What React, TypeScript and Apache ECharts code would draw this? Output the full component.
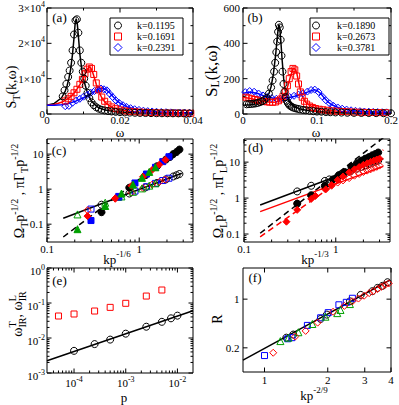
import React, { useEffect, useRef } from 'react';
import * as echarts from 'echarts';

const SERIF = '"Liberation Serif", "Times New Roman", Times, serif';
const fnt = (s: number) => `${s}px ${SERIF}`;
const BLACK = '#000000';
const RED = '#ff0000';
const BLUE = '#0000ff';
const GREEN = '#00a000';

// ---------------- panel (a): S_T(k, w)
const aLegendLabels = ['k=0.1195', 'k=0.1691', 'k=0.2391'];
const aBlackPts = [[0.0043,5000],[0.0048,6700],[0.0053,8500],[0.0058,10500],[0.0062,12300],[0.0066,14500],[0.0070,18000],[0.0074,22500],[0.0078,26500],[0.0082,26800],[0.0086,23000],[0.0090,18000],[0.0094,14500],[0.0098,12000],[0.0102,10000],[0.0106,8000],[0.0111,6000],[0.0116,4500],[0.0122,3300],[0.0128,2500],[0.0135,1900],[0.0142,1500],[0.0150,1200],[0.0158,1000],[0.0167,850],[0.0177,720],[0.0188,620],[0.0200,520],[0.0213,450],[0.0227,400],[0.0241,350],[0.0255,310],[0.0270,280],[0.0285,250],[0.0300,230],[0.0315,210],[0.0330,200],[0.0345,190],[0.0360,180],[0.0375,170],[0.0390,160]];
const aBlackFit = [[0,2500],[0.002,3000],[0.004,4600],[0.005,6500],[0.0055,8000],[0.006,10000],[0.0065,12800],[0.007,17000],[0.0074,21500],[0.0077,25500],[0.008,27000],[0.0083,25500],[0.0086,22000],[0.009,17000],[0.0095,12800],[0.01,10000],[0.0105,8000],[0.011,6300],[0.0115,5000],[0.012,4000],[0.013,2700],[0.014,1900],[0.015,1450],[0.016,1150],[0.018,800],[0.02,600],[0.025,370],[0.03,260],[0.035,200],[0.04,160]];
const aRedPts = [[0.0050,3700],[0.0058,4300],[0.0066,5000],[0.0074,6000],[0.0082,7000],[0.0090,8400],[0.0097,9800],[0.0104,11400],[0.0110,12700],[0.0116,13300],[0.0122,12900],[0.0128,11200],[0.0135,8800],[0.0142,6800],[0.0150,4800],[0.0158,3600],[0.0167,2600],[0.0177,2000],[0.0188,1500],[0.0200,1150],[0.0213,900],[0.0226,760],[0.0240,630],[0.0254,540],[0.0268,470],[0.0282,410],[0.0296,360],[0.0310,320],[0.0324,290],[0.0338,260],[0.0352,240],[0.0366,220],[0.0380,210],[0.0394,200]];
const aRedFit = [[0,2500],[0.002,2700],[0.004,3300],[0.006,4500],[0.007,5400],[0.008,6700],[0.009,8300],[0.010,10300],[0.0105,11500],[0.011,12600],[0.0115,13300],[0.012,13000],[0.0125,11800],[0.013,10200],[0.0135,8400],[0.014,6800],[0.015,4600],[0.016,3200],[0.017,2400],[0.018,1800],[0.02,1200],[0.022,850],[0.025,600],[0.03,380],[0.035,270],[0.04,200]];
const aBluePts = [[0.0050,2200],[0.0060,2300],[0.0070,3200],[0.0080,3800],[0.0090,4300],[0.0100,4900],[0.0110,5400],[0.0120,6000],[0.0130,6500],[0.0140,6900],[0.0148,7200],[0.0156,7000],[0.0164,6700],[0.0172,5700],[0.0180,4800],[0.0189,3800],[0.0198,3100],[0.0208,2500],[0.0218,2000],[0.0229,1650],[0.0240,1350],[0.0252,1150],[0.0264,950],[0.0276,820],[0.0288,720],[0.0300,640],[0.0313,570],[0.0326,510],[0.0339,460],[0.0352,420],[0.0365,390],[0.0378,360],[0.0391,330]];
const aBlueFit = [[0,2500],[0.002,2500],[0.004,2600],[0.006,3000],[0.008,3700],[0.010,4600],[0.012,5700],[0.013,6400],[0.014,7000],[0.015,7300],[0.016,7000],[0.017,6200],[0.018,5000],[0.019,3900],[0.020,3100],[0.022,2000],[0.024,1400],[0.026,1050],[0.028,820],[0.030,660],[0.035,430],[0.040,320]];
const aXTicks = [0, 0.02, 0.04];
const aXTickLabels = ['0', '0.02', '0.04'];
const aXMinor = [0.01, 0.03];
const aYTicks = [0, 10000, 20000, 30000];
const aYTickLabels = ['0', '1×10^4', '2×10^4', '3×10^4'];
const aYMinor = [5000, 15000, 25000];

// ---------------- panel (b): S_L(k, w)
const bLegendLabels = ['k=0.1890', 'k=0.2673', 'k=0.3781'];
const bBlackPts = [[0.005,55],[0.008,56],[0.011,57],[0.014,58],[0.017,60],[0.020,63],[0.023,67],[0.026,72],[0.029,80],[0.032,92],[0.035,115],[0.038,150],[0.040,190],[0.042,240],[0.0435,290],[0.045,350],[0.0462,410],[0.0474,465],[0.0485,505],[0.0497,490],[0.0509,420],[0.052,330],[0.0533,240],[0.0547,170],[0.056,125],[0.0575,95],[0.059,75],[0.0606,62],[0.0623,52],[0.064,46],[0.066,40],[0.068,36],[0.071,32],[0.074,29],[0.077,26],[0.081,23],[0.085,21],[0.09,18],[0.095,16],[0.1,14],[0.106,13],[0.112,11],[0.118,10],[0.125,9],[0.133,8],[0.141,7],[0.15,6.5],[0.16,6],[0.17,5.5],[0.18,5],[0.19,4.5],[0.2,4]];
const bBlackFit = [[0,50],[0.01,52],[0.02,60],[0.025,68],[0.03,82],[0.035,115],[0.038,155],[0.041,225],[0.044,330],[0.046,420],[0.0475,480],[0.0485,505],[0.0495,495],[0.051,420],[0.053,300],[0.055,200],[0.057,135],[0.06,90],[0.065,55],[0.07,40],[0.08,25],[0.09,18],[0.1,14],[0.12,9],[0.15,6],[0.2,4]];
const bRedPts = [[0.004,95],[0.008,90],[0.012,86],[0.016,82],[0.02,78],[0.024,74],[0.028,71],[0.032,69],[0.036,67],[0.04,66],[0.044,68],[0.048,75],[0.051,85],[0.054,100],[0.057,125],[0.06,160],[0.0625,200],[0.065,240],[0.0675,258],[0.07,250],[0.0725,215],[0.075,170],[0.0775,125],[0.08,95],[0.083,72],[0.086,56],[0.09,45],[0.094,37],[0.098,31],[0.103,27],[0.108,24],[0.114,21],[0.12,18],[0.127,16],[0.134,14],[0.142,12.5],[0.15,11],[0.158,10],[0.166,9],[0.175,8.5],[0.184,8],[0.193,7.5]];
const bRedFit = [[0,95],[0.01,88],[0.02,78],[0.03,70],[0.04,66],[0.045,68],[0.05,78],[0.055,100],[0.058,125],[0.061,165],[0.064,210],[0.067,250],[0.069,260],[0.071,250],[0.073,225],[0.076,165],[0.08,100],[0.085,65],[0.09,48],[0.1,32],[0.11,24],[0.12,19],[0.14,13],[0.16,10],[0.2,7]];
const bBluePts = [[0.003,124],[0.009,130],[0.015,126],[0.021,116],[0.027,105],[0.033,96],[0.039,90],[0.045,86],[0.051,86],[0.057,90],[0.063,96],[0.069,103],[0.075,110],[0.081,117],[0.087,127],[0.092,136],[0.097,138],[0.102,125],[0.107,100],[0.112,78],[0.117,60],[0.122,47],[0.128,37],[0.134,30],[0.14,25],[0.146,21],[0.152,18],[0.158,16],[0.164,14],[0.17,13],[0.176,12],[0.182,11],[0.188,10],[0.194,9.5]];
const bBlueFit = [[0,118],[0.01,124],[0.02,116],[0.03,100],[0.04,90],[0.05,86],[0.06,90],[0.07,100],[0.08,113],[0.09,128],[0.096,138],[0.1,133],[0.105,116],[0.11,90],[0.115,68],[0.12,52],[0.13,34],[0.14,25],[0.15,19],[0.17,13],[0.2,9]];
const bXTicks = [0, 0.1, 0.2];
const bXTickLabels = ['0', '0.1', '0.2'];
const bXMinor = [0.05, 0.15];
const bYTicks = [0, 200, 400, 600];
const bYTickLabels = ['0', '200', '400', '600'];
const bYMinor = [100, 300, 500];

// ---------------- panel (c): transverse, vs k p^(-1/6)
const cBlackFilled = [[0.39,0.22],[0.78,1.1],[1.17,2.5],[1.56,4.5],[1.95,7.0],[2.15,8.3],[2.34,10.0],[2.54,11.5],[2.73,13.5]];
const cBlueFilled = [[0.30,0.127],[0.60,0.62],[0.90,1.5],[1.2,2.7],[1.5,4.2],[1.8,6.1],[2.1,8.4]];
const cRedFilled = [[0.275,0.17],[0.55,0.55],[0.825,1.25],[1.1,2.25],[1.375,3.5],[1.65,5.0],[1.925,6.9]];
const cGreenFilled = [[0.214,0.072],[0.428,0.33],[0.642,0.75],[0.856,1.35],[1.07,2.1],[1.284,3.1],[1.498,4.2]];
const cBlackOpen = [[0.39,0.36],[0.78,0.75],[1.17,1.12],[1.56,1.5],[1.95,1.9],[2.34,2.3],[2.54,2.5],[2.73,2.7]];
const cBlueOpen = [[0.30,0.27],[0.60,0.58],[0.90,0.88],[1.2,1.17],[1.5,1.46],[1.8,1.76],[2.1,2.05]];
const cRedOpen = [[0.275,0.25],[0.55,0.53],[0.825,0.80],[1.1,1.07],[1.375,1.34],[1.65,1.61],[1.925,1.88]];
const cGreenOpen = [[0.214,0.19],[0.428,0.41],[0.642,0.62],[0.856,0.84],[1.07,1.05],[1.284,1.26],[1.498,1.47]];
const cOmegaFit = [[0.15,0.043],[2.9,16]];
const cGammaFit = [[0.15,0.147],[2.9,2.84]];
const cXTicks = [0.1, 1];
const cXTickLabels = ['0.1', '1'];
const cXMinor = [0.2,0.3,0.4,0.5,0.6,0.7,0.8,0.9,2,3];
const cYTicks = [0.1, 1, 10];
const cYTickLabels = ['0.1', '1', '10'];
const cYMinor = [0.04,0.05,0.06,0.07,0.08,0.09,0.2,0.3,0.4,0.5,0.6,0.7,0.8,0.9,2,3,4,5,6,7,8,9,20];

// ---------------- panel (d): longitudinal, vs k p^(-1/3)
const dBlackFilled = [[0.38,0.70],[0.54,1.2],[0.76,2.2],[0.93,3.3],[1.08,4.3],[1.25,5.3],[1.48,7.5],[1.7,9.3],[1.9,11],[2.1,12.5],[2.3,13.8],[2.5,15.5],[2.7,16.8],[2.9,18.5]];
const dRedFilled = [[0.29,0.22],[0.38,0.47],[0.54,0.95],[0.6,1.15],[0.78,1.75],[0.9,2.3],[1.05,3.2],[1.2,4.0],[1.4,5.2],[1.6,6.3],[1.8,7.3],[2.0,8.4],[2.2,9.3],[2.4,10.2],[2.6,11],[2.8,11.8],[3.0,12.5]];
const dBlackOpen = [[0.38,1.53],[0.54,2.2],[0.76,3.0],[0.85,3.3],[1.08,4.3],[1.25,5.0],[1.45,5.7],[1.7,6.6],[1.9,7.4],[2.1,8.1],[2.3,8.9],[2.5,9.6],[2.7,10.3],[2.9,11]];
const dRedOpen = [[0.38,0.72],[0.54,1.15],[0.76,1.8],[0.9,2.2],[1.05,2.7],[1.2,3.1],[1.4,3.6],[1.6,4.2],[1.8,4.7],[2.0,5.3],[2.2,5.8],[2.4,6.3],[2.6,6.9],[2.8,7.4],[3.0,8.0]];
const dBlackOmegaFit = [[0.15,0.105],[3.3,48]];
const dRedOmegaFit = [[0.15,0.083],[3.3,22]];
const dBlackGammaFit = [[0.15,0.64],[3.3,12.4]];
const dRedGammaFit = [[0.15,0.42],[3.3,7.6]];
const dXTicks = [0.1, 1];
const dXTickLabels = ['0.1', '1'];
const dXMinor = [0.2,0.3,0.4,0.5,0.6,0.7,0.8,0.9,2,3];
const dYTicks = [0.1, 1, 10];
const dYTickLabels = ['0.1', '1', '10'];
const dYMinor = [0.07,0.08,0.09,0.2,0.3,0.4,0.5,0.6,0.7,0.8,0.9,2,3,4,5,6,7,8,9,20,30,40];

// ---------------- panel (e): w_IR vs p
const eTransPts = [[1e-4,4.3e-3],[2.5e-4,6.7e-3],[5e-4,9e-3],[1e-3,1.33e-2],[2.5e-3,2.1e-2],[5e-3,2.9e-2],[7.5e-3,3.65e-2],[1e-2,4.35e-2]];
const eLongPts = [[5e-5,4.25e-2],[1e-4,4.85e-2],[2.5e-4,5.9e-2],[5e-4,7.5e-2],[1e-3,9.8e-2],[2.5e-3,0.158],[5e-3,0.235]];
const eTransFit = [[3e-5,2.25e-3],[0.02,6.0e-2]];
const eXTicks = [1e-4, 1e-3, 1e-2];
const eXTickLabels = ['10^-4', '10^-3', '10^-2'];
const eXMinor = [4e-5,5e-5,6e-5,7e-5,8e-5,9e-5,2e-4,3e-4,4e-4,5e-4,6e-4,7e-4,8e-4,9e-4,2e-3,3e-3,4e-3,5e-3,6e-3,7e-3,8e-3,9e-3];
const eYTicks = [1e-3, 1e-2, 1e-1, 1];
const eYTickLabels = ['10^-3', '10^-2', '10^-1', '10^0'];
const eYMinor = [2e-3,3e-3,4e-3,5e-3,6e-3,7e-3,8e-3,9e-3,2e-2,3e-2,4e-2,5e-2,6e-2,7e-2,8e-2,9e-2,0.2,0.3,0.4,0.5,0.6,0.7,0.8,0.9];

// ---------------- panel (f): R vs k p^(-2/9)
const fBlackPts = [[1.27,0.28],[1.37,0.31],[1.85,0.52],[1.98,0.6],[2.55,0.93],[2.87,1.15],[3.26,1.3],[3.45,1.45],[3.64,1.55],[3.85,1.75]];
const fBluePts = [[1.0,0.155],[1.29,0.27],[1.35,0.28],[1.6,0.42],[1.85,0.54],[2.01,0.64],[2.26,0.83],[2.45,0.9],[2.62,1.03]];
const fGreenPts = [[1.19,0.25],[1.3,0.28],[1.45,0.335],[1.69,0.44],[1.95,0.56],[2.22,0.63],[2.3,0.7],[2.55,0.85]];
const fRedPts = [[1.1,0.17],[1.4,0.29],[1.57,0.35],[1.79,0.46],[2.12,0.66],[2.4,0.8],[2.62,0.93],[2.8,1.02],[2.98,1.12],[3.15,1.22],[3.3,1.3],[3.45,1.4],[3.6,1.5],[3.75,1.6],[3.9,1.68]];
const fFit = [[0.79,0.133],[3.95,1.87]];
const fXTicks = [1, 2, 3, 4];
const fXTickLabels = ['1', '2', '3', '4'];
const fXMinor: number[] = [];
const fYTicks = [0.2, 1];
const fYTickLabels = ['0.2', '1'];
const fYMinor: number[] = [];

// ---------------- layout
const GRIDS = [
  { left: 47, top: 8, width: 146, height: 106 },
  { left: 243, top: 8, width: 148, height: 106 },
  { left: 47, top: 139, width: 146, height: 103 },
  { left: 244, top: 139, width: 146, height: 103 },
  { left: 47, top: 268, width: 146, height: 105 },
  { left: 243, top: 268, width: 148, height: 104 },
];

const AXES = [
  { xType: 'value', xRange: [0, 0.04], yType: 'value', yRange: [0, 30000], xMaj: aXTicks, xLab: aXTickLabels, xMin: aXMinor, yMaj: aYTicks, yLab: aYTickLabels, yMin: aYMinor, xGap: 5.5, yGap: 2, yShift: 0 },
  { xType: 'value', xRange: [0, 0.2], yType: 'value', yRange: [0, 600], xMaj: bXTicks, xLab: bXTickLabels, xMin: bXMinor, yMaj: bYTicks, yLab: bYTickLabels, yMin: bYMinor, xGap: 5.5, yGap: 3, yShift: 0 },
  { xType: 'log', xRange: [0.1, 3.83], yType: 'log', yRange: [0.031, 27], xMaj: cXTicks, xLab: cXTickLabels, xMin: cXMinor, yMaj: cYTicks, yLab: cYTickLabels, yMin: cYMinor, xGap: 7, yGap: 3.5, yShift: 0 },
  { xType: 'log', xRange: [0.1, 3.9], yType: 'log', yRange: [0.06, 44], xMaj: dXTicks, xLab: dXTickLabels, xMin: dXMinor, yMaj: dYTicks, yLab: dYTickLabels, yMin: dYMinor, xGap: 7, yGap: 4, yShift: 0 },
  { xType: 'log', xRange: [3e-5, 0.02], yType: 'log', yRange: [1e-3, 1], xMaj: eXTicks, xLab: eXTickLabels, xMin: eXMinor, yMaj: eYTicks, yLab: eYTickLabels, yMin: eYMinor, xGap: 10, yGap: 2, yShift: 3 },
  { xType: 'log', xRange: [0.79, 4.0], yType: 'log', yRange: [0.09, 2.8], xMaj: fXTicks, xLab: fXTickLabels, xMin: fXMinor, yMaj: fYTicks, yLab: fYTickLabels, yMin: fYMinor, xGap: 8, yGap: 3.5, yShift: 0 },
];

const tickRich = {
  n: { font: fnt(11), lineHeight: 16, align: 'left', verticalAlign: 'middle', fill: '#000' },
  s: { font: fnt(8), align: 'left', verticalAlign: 'top', fill: '#000' },
};
const tickText = (t: string, x: number, y: number, align: string) => {
  const [base, sup] = t.split('^');
  if (sup === undefined) {
    return { type: 'text', style: { text: t, x, y, align, verticalAlign: 'middle', fill: '#000', font: fnt(11), lineHeight: 11 } };
  }
  return { type: 'text', style: { text: `{n|${base}}{s|${sup}}`, x, y, align, verticalAlign: 'middle', fill: '#000', font: fnt(11), rich: tickRich } };
};

const tickSeries = (i: number) => {
  const s = AXES[i];
  return {
    type: 'custom', xAxisIndex: i, yAxisIndex: i, silent: true, z: 10, clip: false,
    data: [[s.xRange[0], s.yRange[0]]],
    renderItem: (_p: any, api: any) => {
      const ch: any[] = [];
      const [x0, x1] = s.xRange;
      const [y0, y1] = s.yRange;
      const seg = (a: number[], b: number[]) => ch.push({ type: 'line', shape: { x1: a[0], y1: a[1], x2: b[0], y2: b[1] }, style: { stroke: '#000', lineWidth: 1 } });
      const xt = (v: number, L: number) => {
        const b = api.coord([v, y0]);
        const t = api.coord([v, y1]);
        seg(b, [b[0], b[1] - L]);
        seg(t, [t[0], t[1] + L]);
      };
      const yt = (v: number, L: number) => {
        const l = api.coord([x0, v]);
        const r = api.coord([x1, v]);
        seg(l, [l[0] + L, l[1]]);
        seg(r, [r[0] - L, r[1]]);
      };
      s.xMaj.forEach((v) => xt(v, 4.5));
      s.xMin.forEach((v) => xt(v, 2.5));
      s.yMaj.forEach((v) => yt(v, 4.5));
      s.yMin.forEach((v) => yt(v, 2.5));
      s.xMaj.forEach((v, k) => {
        const p = api.coord([v, y0]);
        ch.push(tickText(s.xLab[k], p[0], p[1] + s.xGap, 'center'));
      });
      s.yMaj.forEach((v, k) => {
        const p = api.coord([x0, v]);
        ch.push(tickText(s.yLab[k], p[0] - s.yGap, p[1] + s.yShift, 'right'));
      });
      return { type: 'group', children: ch };
    },
  };
};

const sc = (g: number, data: number[][], symbol: string, color: string, filled: boolean, size = 7) => ({
  type: 'scatter', xAxisIndex: g, yAxisIndex: g, data, symbol, symbolSize: size, silent: true, z: 3,
  itemStyle: filled ? { color, borderColor: color, borderWidth: 1, opacity: 1 } : { color: 'rgba(0,0,0,0)', borderColor: color, borderWidth: 1, opacity: 1 },
});
const ln = (g: number, data: number[][], color: string, dashed = false) => ({
  type: 'line', xAxisIndex: g, yAxisIndex: g, data, showSymbol: false, symbol: 'none', silent: true, z: 2,
  lineStyle: { color, width: 1.5, type: dashed ? [6, 4] : 'solid' },
});

const titleRich = (fs: number) => ({
  m: { font: fnt(fs), lineHeight: 20, align: 'left', verticalAlign: 'middle', fill: '#000' },
  b: { font: fnt(Math.round(fs * 0.7)), align: 'left', verticalAlign: 'bottom', fill: '#000' },
  t: { font: fnt(Math.round(fs * 0.7)), align: 'left', verticalAlign: 'top', fill: '#000' },
  z: { font: fnt(Math.round(fs * 0.7)), align: 'left', verticalAlign: 'top', width: 0, fill: '#000' },
});
const title = (text: string, x: number, y: number, fs: number, rot = false) => ({
  type: 'text', x, y, rotation: rot ? Math.PI / 2 : 0, silent: true, z: 50,
  style: { text, x: 0, y: 0, align: 'center', verticalAlign: 'middle', fill: '#000', font: fnt(fs), rich: titleRich(fs) },
});
const plainTitle = (text: string, x: number, y: number, fs: number, rot = false) => ({
  type: 'text', x, y, rotation: rot ? Math.PI / 2 : 0, silent: true, z: 50,
  style: { text, x: 0, y: 0, align: 'center', verticalAlign: 'middle', fill: '#000', font: fnt(fs), lineHeight: fs },
});

const legend = (bx: number, by: number, w: number, h: number, symX: number, txtX: number, labels: string[]) => {
  const els: any[] = [{ type: 'rect', z: 40, shape: { x: bx, y: by, width: w, height: h }, style: { fill: '#fff', stroke: '#000', lineWidth: 1 } }];
  const colors = [BLACK, RED, BLUE];
  labels.forEach((t, i) => {
    const cy = by + 7.5 + i * 11;
    const c = colors[i];
    if (i === 0) els.push({ type: 'circle', z: 41, shape: { cx: symX, cy, r: 3.5 }, style: { fill: 'none', stroke: c, lineWidth: 1 } });
    if (i === 1) els.push({ type: 'rect', z: 41, shape: { x: symX - 3.5, y: cy - 3.5, width: 7, height: 7 }, style: { fill: 'none', stroke: c, lineWidth: 1 } });
    if (i === 2) els.push({ type: 'polygon', z: 41, shape: { points: [[symX, cy - 4], [symX + 4, cy], [symX, cy + 4], [symX - 4, cy]] }, style: { fill: 'none', stroke: c, lineWidth: 1 } });
    els.push({ type: 'text', z: 41, style: { text: t, x: txtX, y: cy, font: fnt(10), fill: '#000', align: 'left', verticalAlign: 'middle' } });
  });
  return els;
};

const panelLabel = (t: string, x: number, y: number) => ({ type: 'text', z: 50, style: { text: t, x, y, font: fnt(13), fill: '#000', align: 'center', verticalAlign: 'middle' } });

const option: any = {
  animation: false,
  grid: GRIDS.map((g) => ({ ...g, show: true, borderColor: '#000', borderWidth: 1, backgroundColor: 'transparent', containLabel: false })),
  xAxis: AXES.map((s, i) => ({ type: s.xType, logBase: 10, gridIndex: i, min: s.xRange[0], max: s.xRange[1], axisLine: { show: false }, axisTick: { show: false }, axisLabel: { show: false }, splitLine: { show: false } })),
  yAxis: AXES.map((s, i) => ({ type: s.yType, logBase: 10, gridIndex: i, min: s.yRange[0], max: s.yRange[1], axisLine: { show: false }, axisTick: { show: false }, axisLabel: { show: false }, splitLine: { show: false } })),
  series: [
    // (a)
    ln(0, aBlackFit, BLACK), ln(0, aRedFit, RED), ln(0, aBlueFit, BLUE),
    sc(0, aBluePts, 'diamond', BLUE, false, 7), sc(0, aRedPts, 'rect', RED, false, 6), sc(0, aBlackPts, 'circle', BLACK, false, 7),
    // (b)
    ln(1, bBlackFit, BLACK), ln(1, bRedFit, RED), ln(1, bBlueFit, BLUE),
    sc(1, bBluePts, 'diamond', BLUE, false, 7), sc(1, bRedPts, 'rect', RED, false, 6), sc(1, bBlackPts, 'circle', BLACK, false, 7),
    // (c)
    sc(2, cBlackOpen, 'circle', BLACK, false), sc(2, cBlueOpen, 'rect', BLUE, false, 6), sc(2, cRedOpen, 'diamond', RED, false), sc(2, cGreenOpen, 'triangle', GREEN, false),
    sc(2, cBlackFilled, 'circle', BLACK, true), sc(2, cBlueFilled, 'rect', BLUE, true, 6), sc(2, cRedFilled, 'diamond', RED, true), sc(2, cGreenFilled, 'triangle', GREEN, true),
    ln(2, cOmegaFit, BLACK, true), ln(2, cGammaFit, BLACK),
    // (d)
    sc(3, dBlackOpen, 'circle', BLACK, false), sc(3, dRedOpen, 'diamond', RED, false),
    sc(3, dBlackFilled, 'circle', BLACK, true), sc(3, dRedFilled, 'diamond', RED, true),
    ln(3, dBlackOmegaFit, BLACK, true), ln(3, dRedOmegaFit, RED, true), ln(3, dBlackGammaFit, BLACK), ln(3, dRedGammaFit, RED),
    // (e)
    ln(4, eTransFit, BLACK), sc(4, eTransPts, 'circle', BLACK, false), sc(4, eLongPts, 'rect', RED, false, 6),
    // (f)
    ln(5, fFit, BLACK),
    sc(5, fBlackPts, 'circle', BLACK, false), sc(5, fBluePts, 'rect', BLUE, false, 6), sc(5, fGreenPts, 'triangle', GREEN, false), sc(5, fRedPts, 'diamond', RED, false),
    // ticks and tick labels
    ...AXES.map((_s, i) => tickSeries(i)),
  ],
  graphic: {
    elements: [
      ...legend(110, 18, 73, 37, 118, 137, aLegendLabels),
      ...legend(310, 18, 79, 37, 316, 337, bLegendLabels),
      panelLabel('(a)', 59.5, 17), panelLabel('(b)', 255, 17), panelLabel('(c)', 59, 150), panelLabel('(d)', 255.5, 147.5), panelLabel('(e)', 59.5, 280), panelLabel('(f)', 255, 277),
      plainTitle('ω', 120, 132, 13), plainTitle('ω', 316, 132, 13),
      title('{m|S}{b|T}{m|(k,ω)}', 11, 87, 14, true),
      title('{m|S}{b|L}{m|(k,ω)}', 211, 71, 17, true),
      title('{m|kp}{t|-1/6}', 117, 259, 13), title('{m|kp}{t|-1/3}', 315, 259, 13),
      title('{m|Ω}{b|T}{m|p}{t|-1/2}{m| , πΓ}{b|T}{m|p}{t|-1/2}', 19, 191, 14, true),
      title('{m|Ω}{b|L}{m|p}{t|-1/2}{m| , πΓ}{b|L}{m|p}{t|-1/2}', 218, 191, 14, true),
      plainTitle('p', 124, 397, 13),
      title('{m|ω}{z|T}{b|IR}{m|, ω}{z|L}{b|IR}', 17, 314, 14, true),
      title('{m|kp}{t|-2/9}', 314, 395, 13),
      plainTitle('R', 217, 319, 14, true),
    ],
  },
};

export default function App() {
  const ref = useRef<HTMLDivElement>(null);
  useEffect(() => {
    const chart = echarts.init(ref.current as HTMLDivElement, null, { renderer: 'svg' });
    chart.setOption(option);
    return () => chart.dispose();
  }, []);
  return <div ref={ref} style={{ position: 'absolute', left: 0, top: 0, width: 399, height: 405, background: '#fff' }} />;
}
